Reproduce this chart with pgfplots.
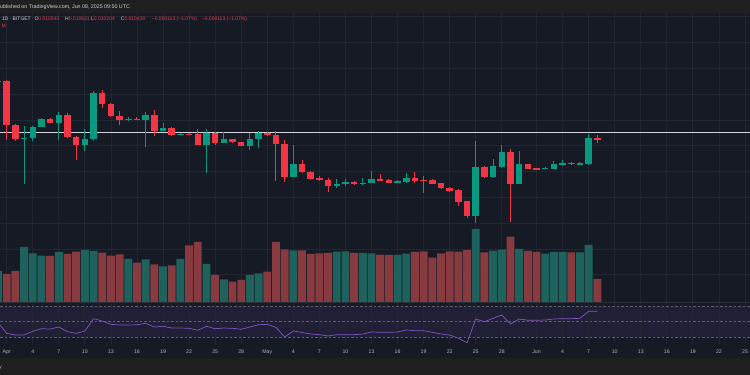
\documentclass[border=0pt]{standalone}
\usepackage{fontspec}
\setmainfont{Liberation Sans}
\usepackage{pgfplots}
\usepackage{pgfplotstable}
\pgfplotsset{compat=1.18}
\definecolor{bg}{HTML}{161A25}
\definecolor{strip}{HTML}{1F1F1F}
\definecolor{gridc}{HTML}{222632}
\definecolor{cg}{HTML}{089981}
\definecolor{cr}{HTML}{F23645}
\definecolor{vg}{HTML}{1D625D}
\definecolor{vr}{HTML}{873A3F}
\definecolor{txt}{HTML}{D1D4DC}
\definecolor{axt}{HTML}{B2B5BE}
\definecolor{rsic}{HTML}{7E57C2}
\definecolor{band}{HTML}{201F35}
\definecolor{dashc}{HTML}{5A5D6B}
\definecolor{sep}{HTML}{2A2E39}

% candles: day (Apr 1 = 0), open, high, low, close
\pgfplotstableread{
d o h l c
-1 293 295 292 294.3
2 235.7 249 190.7 237.3
3 237 249 234 248.3
4 248.3 256.7 247.7 255.7
6 252.3 263.3 235 260
9 229.7 246 224 236
10 235.7 284 234 282.3
14 255 257.7 253.7 256
16 254.7 262.7 228.3 260.3
18 244 251.7 243.7 247
20 240.3 242.3 239.7 241.3
23 230.3 246 202.3 242.3
25 232 242.7 231.7 235.7
28 229.3 241.7 225 235.7
29 235.7 244 227.3 242.3
33 198 230 197.7 211
38 189 195.7 187.3 191.3
39 191.3 195.7 189 193
41 190.7 196.7 190 192.3
42 192.3 203.7 191.7 195.7
45 192.3 195 191.7 194
46 193.3 201.7 191.7 197
54 159.3 234.3 152.3 207.7
56 198 216 197.3 209
57 208.3 230 207.3 223
59 191.3 224 190.7 211
62 206 208 205.7 207
63 206.3 214 205.7 211
64 210.3 214.7 210 212
66 210.7 212.7 210.3 212
67 211.3 241 210.3 236.7
}\cgreen

\pgfplotstableread{
d o h l c
0 294.3 295 235 249.7
1 250 251 234 235.7
5 255.7 257 252 252.3
7 260 261.7 237 237.7
8 238.3 238.7 215 230
11 281.7 285 267.3 271
12 271.3 272.3 258.3 259
13 259.3 264.3 250.3 255
15 256 257.7 254.7 255
17 260.3 265 239 244
19 247 247.7 239 240
21 241.3 242 240 240.3
22 241 246 229.7 230.3
24 242.3 243 230.3 232
26 235.7 236.3 232 232.7
27 232.7 233.3 229 229.3
30 242.3 243 239.3 239.7
31 240.3 244 194.3 230.7
32 231.3 234.7 193.3 198
34 210.7 215 202.3 203.3
35 203.3 204.3 195.3 196
36 196.7 199 194.3 195
37 195 197.3 183.3 189
40 193 193.7 190 190.7
43 195.7 201 194 194.3
44 195 195.7 191.7 192.3
47 197 202.7 192.3 194.3
48 195 199 181.7 194.3
49 195 195.7 190.7 191.3
50 191.7 192.3 186.3 187
51 187.3 188.3 183.3 184.3
52 184.7 185.7 169 173.3
53 173.7 174.3 157.3 159.3
55 207.7 209 197 198
58 223 226 153.3 191.3
60 211 211.3 206 206.3
61 207 207.3 205.3 205.7
65 212 212.7 209.7 211
68 236.7 240.3 231.7 234.7
}\cred

\pgfplotstableread{
d v
-1 31
2 55
3 48.7
4 46.3
6 50
9 52
10 51
14 43
16 42.7
18 35.7
20 43
23 38
25 22.7
28 27
29 28.7
33 51.7
38 50.3
39 50.7
41 49
42 48.7
45 47
46 48.3
54 73
56 51.3
57 52.3
59 53
62 48.3
63 50
64 50
66 49.7
67 57
}\volg

\pgfplotstableread{
d v
0 28
1 31
5 46
7 48
8 50.3
11 49.3
12 46.3
13 47.7
15 39.3
17 37.7
19 36.7
21 56.7
22 60
24 27
26 20.3
27 22
30 30.3
31 60
32 52.7
34 51.7
35 48
36 48.7
37 49
40 49
43 47.3
44 47
47 50
48 50.7
49 44.3
50 48.7
51 50.7
52 50.3
53 52
55 49.7
58 65.3
60 51
61 50
65 49.7
68 23
}\volr

\pgfplotstableread{
d r
-1 49
0 35.2
1 33.1
2 33.1
3 37.8
4 41.1
5 40.7
6 43.3
7 37.3
8 35.2
9 38.2
10 53.9
11 51.0
12 46.7
13 45.8
14 45.8
15 46.2
16 48.0
17 43.3
18 44.2
19 42.0
20 42.0
21 41.6
22 39.1
23 44.2
24 41.1
25 42.0
26 41.6
27 40.4
28 43.3
29 46.2
30 46.7
31 42.9
32 30.5
33 38.2
34 36.3
35 34.3
36 33.5
37 31.8
38 33.5
39 33.5
40 33.5
41 34.3
42 36.9
43 36.5
44 36.5
45 36.9
46 39.5
47 38.6
48 38.6
49 36.5
50 34.3
51 33.1
52 28.9
53 23.2
54 53.5
55 50.1
56 54.4
57 58.6
58 47.1
59 53.5
60 51.9
61 51.9
62 52.2
63 53.5
64 53.9
65 53.9
66 54.4
67 63.4
68 63.4
}\rsi

\pgfplotsset{
  pane/.style={scale only axis, width=750pt, xmin=-0.7714, xmax=85.575,
    axis line style={draw=none}, tick style={draw=none}, major tick length=0pt,
    anchor=south west},
  candle/.style 2 args={only marks, mark=none, mark size=0pt,
    mark options={draw=none, fill=none, opacity=0},
    error bars/.cd, y dir=both, y explicit,
    error mark=none, error bar style={#1, line width=#2}},
}

\begin{document}
\begin{tikzpicture}
\useasboundingbox (0,0) rectangle (750pt,375pt);
\clip (0,0) rectangle (750pt,375pt);
\fill[strip] (0,0) rectangle (750pt,375pt);
\fill[bg] (0,16.7pt) rectangle (750pt,362.3pt);
\fill[band] (0,37.6pt) rectangle (750pt,68.9pt);

% time scale + vertical grid
\begin{axis}[pane, at={(0pt,31pt)}, height=331.3pt, ymin=0, ymax=1, ytick=\empty,
  xtick={0,3,6,9,12,15,18,21,24,27,30,33,36,39,42,45,48,51,54,57,61,64,67,70,73,76,79,82,85},
  xticklabels={Apr,4,7,10,13,16,19,22,25,28,May,4,7,10,13,16,19,22,25,28,Jun,4,7,10,13,16,19,22,25},
  xmajorgrids, major grid style={gridc, line width=0.8pt},
  xticklabel style={font=\fontsize{5.2}{6}\selectfont, text=axt, anchor=base, yshift=-9.9pt}]
\addplot[draw=none] coordinates {(0,0.5)};
\end{axis}

% price pane
\begin{axis}[pane, at={(0pt,73pt)}, height=289.3pt, ymin=73, ymax=362.3, xtick=\empty,
  ytick={100.1,125.9,151.7,177.5,203.3,229.1,254.9,280.7,306.5,332.3,358.1}, yticklabel=\empty,
  ymajorgrids, major grid style={gridc, line width=0.8pt}]
\addplot[txt, line width=1.3pt] coordinates {(-1,242.7) (86,242.7)};
\addplot[candle={cg}{1pt}] table[x=d, y expr={(\thisrow{h}+\thisrow{l})/2}, y error expr={(\thisrow{h}-\thisrow{l})/2}] {\cgreen};
\addplot[candle={cg}{6.5pt}] table[x=d, y expr={(\thisrow{o}+\thisrow{c})/2}, y error expr={max(abs(\thisrow{o}-\thisrow{c})/2,0.5)}] {\cgreen};
\addplot[candle={cr}{1pt}] table[x=d, y expr={(\thisrow{h}+\thisrow{l})/2}, y error expr={(\thisrow{h}-\thisrow{l})/2}] {\cred};
\addplot[candle={cr}{6.5pt}] table[x=d, y expr={(\thisrow{o}+\thisrow{c})/2}, y error expr={max(abs(\thisrow{o}-\thisrow{c})/2,0.5)}] {\cred};
\end{axis}

% volume overlay
\begin{axis}[pane, at={(0pt,73pt)}, height=289.3pt, ymin=0, ymax=289.3, xtick=\empty, ytick=\empty,
  ybar, bar width=7.9pt]
\addplot[fill=vg, draw=none, bar shift=0pt] table[x=d, y=v] {\volg};
\addplot[fill=vr, draw=none, bar shift=0pt] table[x=d, y=v] {\volr};
\end{axis}

% RSI pane
\begin{axis}[pane, at={(0pt,31pt)}, height=42pt, ymin=21.57, ymax=75.24, xtick=\empty,
  ytick={30,50,70}, yticklabel=\empty, ymajorgrids,
  major grid style={dashc, dash pattern=on 2.5pt off 2pt, line width=0.6pt}]
\addplot[rsic, line width=0.7pt] table[x=d, y=r] {\rsi};
\end{axis}

\draw[sep, line width=0.8pt] (0,72.6pt) -- (750pt,72.6pt);

% legend / header texts
\node[anchor=base west, inner sep=0, text=txt, font=\fontsize{5.3}{6}\selectfont] at (-3.5pt,366.8pt) {Published on TradingView.com, Jun 08, 2025 09:50 UTC};
\begin{scope}[every node/.style={anchor=base west, inner sep=0, text=txt, font=\fontsize{5}{6}\selectfont}]
\node at (1.7pt,354.1pt) {1D · BITGET};
\node at (34.3pt,354.1pt) {O\textcolor{cr}{0.010543}};
\node at (65pt,354.1pt) {H\textcolor{cr}{0.010631}};
\node at (91pt,354.1pt) {L\textcolor{cr}{0.010204}};
\node at (120.7pt,354.1pt) {C\textcolor{cr}{0.010430}};
\node at (151.7pt,354.1pt) {\textcolor{cr}{−0.000113 (−1.07\%)}};
\node at (201.7pt,354.1pt) {\textcolor{cr}{−0.000113 (−1.07\%)}};
\node at (1.5pt,347.7pt) {\textcolor{cr}{M}};
\node[text=axt] at (-0.8pt,6.5pt) {y};
\end{scope}
\end{tikzpicture}
\end{document}
